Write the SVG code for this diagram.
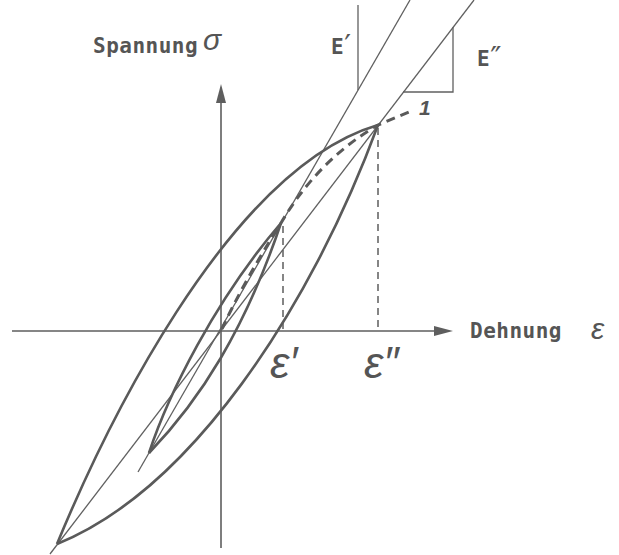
<svg xmlns="http://www.w3.org/2000/svg" width="619" height="555" viewBox="0 0 619 555">
<style>
.ax{stroke:#5e5e5e;stroke-width:1.6;fill:none}
.thick{stroke:#5a5a5a;stroke-width:2.6;fill:none}
.thin{stroke:#606060;stroke-width:1.3;fill:none}
.dash{stroke:#5e5e5e;stroke-width:1.5;stroke-dasharray:7 5;fill:none}
.neu{stroke:#5a5a5a;stroke-width:3;stroke-dasharray:9 6;fill:none}
.head{fill:#5e5e5e}
.lbl{font-family:"DejaVu Sans Mono","Liberation Mono",monospace;font-weight:bold;font-size:21px;fill:#555;letter-spacing:0.5px}
.pr{font-family:"DejaVu Sans",sans-serif;font-weight:normal;font-size:30px}
.gr{font-family:"Liberation Sans","DejaVu Sans",sans-serif;font-style:italic;fill:#555}
</style>
<rect width="619" height="555" fill="#fff"/>
<g id="axes">
  <line class="ax" x1="221" y1="100" x2="221" y2="548"/>
  <polygon class="head" points="221,84 216,103 226,103"/>
  <line class="ax" x1="12" y1="331" x2="438" y2="331"/>
  <polygon class="head" points="453,331 434,326 434,336"/>
</g>
<g id="secant-lines">
  <path class="thin" d="M50,554 L474,0"/>
  <path class="thin" d="M138,472 L410,0"/>
  <path class="thin" d="M358,5 L358,90"/>
  <path class="thin" d="M453,27 L453,92 L403,92"/>
</g>
<g id="loop-large">
  <path class="thick" d="M57,544 C100,440 225,170 378,125"/>
  <path class="thick" d="M57,544 C190,490 310,310 378,125"/>
</g>
<g id="loop-small">
  <path class="thick" d="M149,453 C168,395 215,300 281,223"/>
  <path class="thick" d="M149,453 C200,400 245,330 281,223"/>
</g>
<g id="connectors">
  <path class="neu" d="M222,329 Q243,283 281,223 Q318,160 378,125 L414,110"/>
  <path class="dash" d="M378,128 V331"/>
  <path class="dash" d="M283,226 V331"/>
</g>
<g id="labels">
  <text class="lbl" x="93" y="53">Spannung</text>
  <text class="gr" x="203" y="50" font-size="30">σ</text>
  <text class="lbl" x="470" y="338">Dehnung</text>
  <text class="gr" x="591" y="339" font-size="30">ε</text>
  <text class="lbl" x="331" y="54">E<tspan class="pr" dy="2">′</tspan></text>
  <text class="lbl" x="477" y="66">E<tspan class="pr" dy="2">″</tspan></text>
  <text class="gr" x="270" y="378" font-size="44">ε′</text>
  <text class="gr" x="364" y="378" font-size="44">ε″</text>
  <text class="gr" x="419" y="115" font-size="21" font-weight="bold">1</text>
</g>
</svg>
